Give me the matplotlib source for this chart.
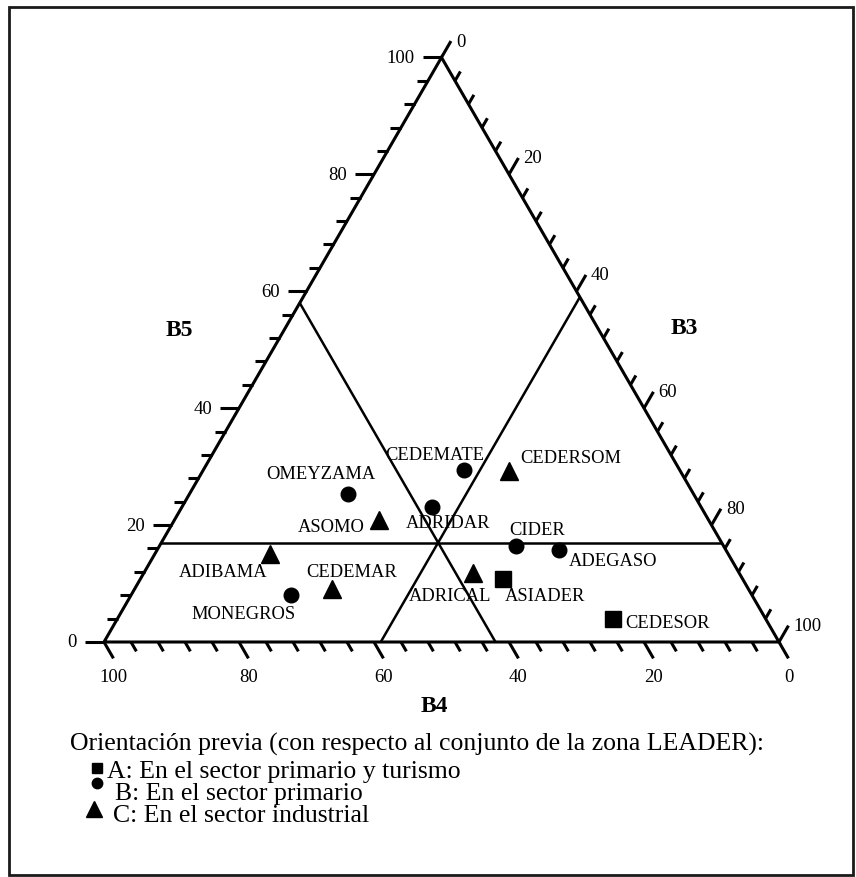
import numpy as np
import matplotlib
matplotlib.use('Agg')
import matplotlib.pyplot as plt
from matplotlib.patches import Rectangle

# ---------------- data ----------------
names = ['OMEYZAMA', 'ASOMO', 'ADRIDAR', 'ADIBAMA', 'CEDEMAR', 'MONEGROS',
         'CEDEMATE', 'CEDERSOM', 'CIDER', 'ADEGASO', 'ADRICAL', 'ASIADER', 'CEDESOR']
groups = ['B', 'C', 'B', 'C', 'C', 'B', 'B', 'C', 'B', 'B', 'C', 'A', 'A']
b3 = [23.5, 30.3, 37.0, 17.1, 29.3, 23.6, 38.6, 45.4, 52.8, 59.5, 48.8, 53.7, 73.5]
b4 = [51.2, 48.9, 39.9, 67.9, 61.7, 68.3, 32.0, 25.4, 30.8, 24.75, 39.4, 35.55, 22.6]
b5 = [25.3, 20.8, 23.1, 15.0, 9.0, 8.1, 29.4, 29.2, 16.4, 15.75, 11.8, 10.75, 3.9]

# reference composition (conjunto de la zona LEADER)
ref_b3, ref_b4, ref_b5 = 41.0, 42.0, 17.0

tick_values = list(range(0, 101, 4))
major_values = [0, 20, 40, 60, 80, 100]

legend_title = 'Orientación previa (con respecto al conjunto de la zona LEADER):'
legend_groups = ['A', 'B', 'C']
legend_texts = ['A: En el sector primario y turismo',
                'B: En el sector primario',
                'C: En el sector industrial']

# ---------------- style / layout ----------------
W, H_PX = 856, 878
plt.rcParams['font.family'] = ['Liberation Serif', 'DejaVu Serif']
fig = plt.figure(figsize=(W / 100, H_PX / 100), dpi=100)
fig.patch.set_facecolor('white')

H = np.sqrt(3) / 2
ax = fig.add_axes([104 / W, (H_PX - 643) / H_PX, 675 / W, 675 * H / H_PX])
ax.set_xlim(0, 1)
ax.set_ylim(0, H)
ax.axis('off')


def proj(t3, t5):
    t3 = np.asarray(t3, dtype=float)
    t5 = np.asarray(t5, dtype=float)
    return t3 / 100 + t5 / 200, t5 / 100 * H


def fp(x, y):
    return x / W, 1 - y / H_PX


markers = {'A': ('s', 12), 'B': ('o', 10.5), 'C': ('^', 13)}
legend_markers = {'A': ('s', 7), 'B': ('o', 7.5), 'C': ('^', 11)}
label_offsets = {
    'OMEYZAMA': (-27, 21, 'center'), 'ASOMO': (-14, -6, 'right'),
    'ADRIDAR': (16, -16, 'center'), 'ADIBAMA': (-47, -17, 'center'),
    'CEDEMAR': (19, 18, 'center'), 'MONEGROS': (-47, -19, 'center'),
    'CEDEMATE': (-29, 16, 'center'), 'CEDERSOM': (11, 14, 'left'),
    'CIDER': (21, 17, 'center'), 'ADEGASO': (10, -11, 'left'),
    'ADRICAL': (-23, -22, 'center'), 'ASIADER': (2, -16, 'left'),
    'CEDESOR': (12, -3, 'left'),
}

LW = 2.2
kw = dict(color='black', clip_on=False, solid_capstyle='butt')

# triangle
tx, ty = proj([0, 100, 0, 0], [0, 0, 100, 0])
ax.plot(tx, ty, lw=LW, solid_joinstyle='miter', **kw)

# reference lines
lx, ly = proj([0, 100 - ref_b5], [ref_b5, ref_b5])
ax.plot(lx, ly, lw=1.8, **kw)
lx, ly = proj([ref_b3, ref_b3], [0, 100 - ref_b3])
ax.plot(lx, ly, lw=1.8, **kw)
lx, ly = proj([100 - ref_b4, 0], [0, 100 - ref_b4])
ax.plot(lx, ly, lw=1.8, **kw)

# ticks
TMAJ, TMIN = 0.028, 0.016
tick_font = 13.5
for v in tick_values:
    L = TMAJ if v in major_values else TMIN
    # left axis (B5): horizontal ticks
    x0, y0 = proj(0, v)
    d = np.array([-1.0, 0.0])
    ax.plot([x0, x0 + L * d[0]], [y0, y0 + L * d[1]], lw=LW, **kw)
    if v in major_values:
        ax.annotate(str(v), (x0 + L * d[0], y0 + L * d[1]), xytext=(-8, 0),
                    textcoords='offset pixels', ha='right', va='center',
                    fontsize=tick_font, annotation_clip=False)
    # bottom axis (B4): ticks toward lower right
    x0, y0 = proj(100 - v, 0)
    d = np.array([0.5, -H])
    ax.plot([x0, x0 + L * d[0]], [y0, y0 + L * d[1]], lw=LW, **kw)
    if v in major_values:
        ax.annotate(str(v), (x0 + L * d[0], y0 + L * d[1]), xytext=(0, -18),
                    textcoords='offset pixels', ha='center', va='center',
                    fontsize=tick_font, annotation_clip=False)
    # right axis (B3): ticks toward upper right
    x0, y0 = proj(v, 100 - v)
    d = np.array([0.5, H])
    ax.plot([x0, x0 + L * d[0]], [y0, y0 + L * d[1]], lw=LW, **kw)
    if v in major_values:
        ax.annotate(str(v), (x0 + L * d[0], y0 + L * d[1]), xytext=(5, 0),
                    textcoords='offset pixels', ha='left', va='center',
                    fontsize=tick_font, annotation_clip=False)

# points
px, py = proj(b3, b5)
for i, n in enumerate(names):
    m, ms = markers[groups[i]]
    ax.plot([px[i]], [py[i]], marker=m, ms=ms, color='black', ls='none',
            clip_on=False)
    dx, dy, ha = label_offsets[n]
    ax.annotate(n, (px[i], py[i]), xytext=(dx, dy), textcoords='offset pixels',
                ha=ha, va='center', fontsize=13.3, annotation_clip=False)

# axis names
fig.text(*fp(179, 331), 'B5', fontsize=17, fontweight='bold', ha='center', va='center')
fig.text(*fp(684, 328), 'B3', fontsize=17, fontweight='bold', ha='center', va='center')
fig.text(*fp(434, 707), 'B4', fontsize=17, fontweight='bold', ha='center', va='center')

# legend
leg_font = 18.5
fig.text(*fp(70, 751), legend_title, fontsize=leg_font, ha='left', va='baseline')
leg_marker_pos = [(96.5, 769), (97, 784), (94, 810)]
leg_text_x = [107, 115, 113]
leg_base_y = [778, 800, 822]
for g, t, mp, txx, by in zip(legend_groups, legend_texts, leg_marker_pos, leg_text_x, leg_base_y):
    m, ms = legend_markers[g]
    fx, fy = fp(*mp)
    ax.plot([fx], [fy], marker=m, ms=ms, color='black', ls='none',
            transform=fig.transFigure, clip_on=False)
    fig.text(*fp(txx, by), t, fontsize=leg_font, ha='left', va='baseline')

# frame
x0f, y0f = fp(9, 876)
x1f, y1f = fp(853, 8)
fig.patches.append(Rectangle((x0f, y0f), x1f - x0f, y1f - y0f, transform=fig.transFigure,
                             fill=False, edgecolor='#1a1a1a', lw=2.0, figure=fig))

fig.savefig('out.png', dpi=100)
